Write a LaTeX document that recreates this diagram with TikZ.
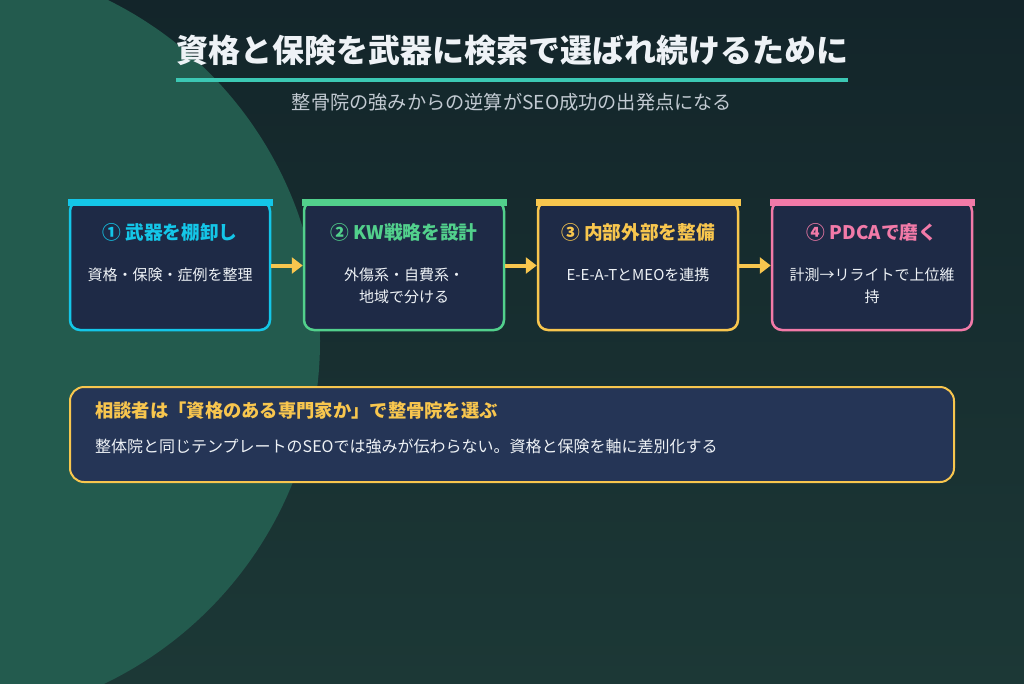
\documentclass[tikz,border=0pt]{standalone}
\usepackage{fontspec}
\setmainfont{Noto Sans CJK JP}
\usetikzlibrary{arrows.meta}
\definecolor{bgtop}{HTML}{13252A}
\definecolor{bgbot}{HTML}{1C3836}
\definecolor{circ}{HTML}{235B4E}
\definecolor{boxfill}{HTML}{1E2A46}
\definecolor{notefill}{HTML}{253556}
\definecolor{cA}{HTML}{14C6E8}
\definecolor{cB}{HTML}{52D08C}
\definecolor{cC}{HTML}{F8C64E}
\definecolor{cD}{HTML}{F27AA8}
\definecolor{teal}{HTML}{3CC8B4}
\definecolor{subgray}{HTML}{C2CAD2}
\definecolor{txt}{HTML}{EEF2F6}
\tikzset{
  stepbox/.style={draw=#1, fill=boxfill, line width=2.5pt, rounded corners=10pt,
    minimum width=200pt, minimum height=129pt, inner sep=0pt},
  head/.style={text=#1, font=\bfseries\fontsize{18.7}{22}\selectfont, anchor=base, inner sep=0pt},
  body/.style={text=txt, font=\fontsize{15}{22}\selectfont, anchor=north, align=center, inner sep=0pt},
  flow/.style={draw=cC, line width=4pt, -{Triangle[length=11pt,width=16pt]}, shorten >=0pt},
}
\begin{document}
\begin{tikzpicture}[x=1pt,y=-1pt]
\useasboundingbox (0,0) rectangle (1024,683);
\shade[top color=bgtop, bottom color=bgbot] (0,0) rectangle (1024,683);
\begin{scope}
  \clip (0,0) rectangle (1024,683);
  \fill[circ] (-60,341) circle[radius=380pt];
\end{scope}
% title
\node[text=txt, font=\bfseries\fontsize{32}{38}\selectfont, anchor=base, inner sep=0pt] (title) at (512,62) {資格と保険を武器に検索で選ばれ続けるために};
\draw[teal, line width=4pt] (176,80) coordinate (ul1) -- (848,80) coordinate (ul2);
\node[text=subgray, font=\fontsize{19.2}{22}\selectfont, anchor=base, inner sep=0pt] (sub) at (512,109) {整骨院の強みからの逆算がSEO成功の出発点になる};
% boxes
\foreach \i/\x/\c in {1/170/cA, 2/404/cB, 3/638/cC, 4/872/cD} {
  \node[stepbox=\c] (b\i) at (\x,265.5) {};
  \fill[\c] ([xshift=-1.25pt,yshift=1.25pt]b\i.north west) rectangle ([xshift=1.25pt,yshift=-6.5pt]b\i.north east);
}
\node[head=cA] (h1) at (170,239) {① 武器を棚卸し};
\node[head=cB] (h2) at (404,239) {② KW戦略を設計};
\node[head=cC] (h3) at (638,239) {③ 内部外部を整備};
\node[head=cD] (h4) at (872,239) {④ PDCAで磨く};
\node[body] (t1) at (170,267.5) {資格・保険・症例を整理};
\node[body] (t2) at (404,267.5) {外傷系・自費系・\\地域で分ける};
\node[body] (t3) at (638,267.5) {E-E-A-TとMEOを連携};
\node[body] (t4) at (872,267.5) {計測→リライトで上位維\\持};
% arrows
\draw[flow] (b1.east) -- (b2.west);
\draw[flow] (b2.east) -- (b3.west);
\draw[flow] (b3.east) -- (b4.west);
% note
\node[draw=cC, fill=notefill, line width=2pt, rounded corners=14pt, minimum width=884pt, minimum height=95pt, inner sep=0pt] (note) at (512,434.5) {};
\node[text=cC, font=\bfseries\fontsize{18.3}{20}\selectfont, anchor=base west, inner sep=0pt] (nh) at (95,417.5) {相談者は「資格のある専門家か」で整骨院を選ぶ};
\node[text=txt, font=\fontsize{16}{20}\selectfont, anchor=base west, inner sep=0pt] (nt) at (95,452) {整体院と同じテンプレートのSEOでは強みが伝わらない。資格と保険を軸に差別化する};
\end{tikzpicture}
\end{document}
